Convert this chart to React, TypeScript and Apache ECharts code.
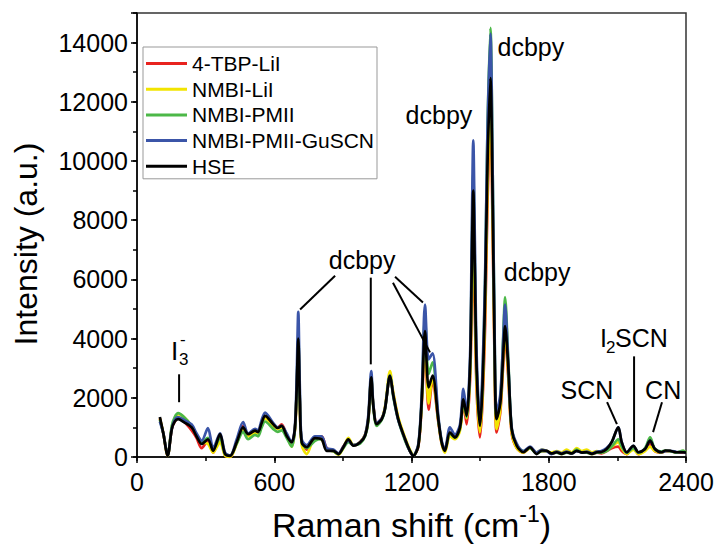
import React, { useEffect, useRef } from 'react';
import * as echarts from 'echarts';

// Raman shift (cm-1)
const shift = [100, 115, 134, 152, 165, 180, 205, 239, 260, 283, 310, 333, 363, 385, 407, 436, 464, 486, 516, 529, 545, 560, 595, 615, 632, 654, 676, 690, 698, 705, 712, 720, 742, 778, 807, 829, 858, 880, 902, 924, 946, 975, 997, 1011, 1024, 1033, 1048, 1070, 1084, 1106, 1121, 1142, 1172, 1193, 1208, 1230, 1245, 1259, 1275, 1292, 1317, 1332, 1346, 1368, 1390, 1412, 1427, 1441, 1456, 1463, 1470, 1477, 1485, 1499, 1510, 1522, 1532, 1545, 1555, 1563, 1572, 1588, 1600, 1609, 1623, 1638, 1660, 1689, 1718, 1747, 1770, 1791, 1812, 1835, 1856, 1878, 1900, 1922, 1945, 1966, 1988, 2010, 2030, 2053, 2075, 2104, 2119, 2141, 2170, 2192, 2221, 2243, 2264, 2293, 2310, 2330, 2359, 2388, 2400];

const tbpLiI = [1300, 800, 50, 950, 1200, 1300, 1200, 900, 650, 300, 550, 150, 700, 50, 0, 500, 1050, 750, 850, 850, 1150, 1350, 1050, 1000, 1100, 750, 450, 900, 2200, 3900, 1800, 500, 250, 650, 700, 300, 200, 100, 350, 550, 400, 500, 750, 1250, 2600, 1750, 1150, 1300, 1650, 2700, 2100, 1300, 600, 200, 50, 350, 1800, 3800, 1600, 2600, 1200, 450, 200, 750, 650, 950, 1800, 1100, 2600, 5000, 7000, 4800, 2200, 660, 1800, 4500, 8500, 11500, 7500, 3300, 830, 1500, 3000, 4100, 2700, 800, 300, 150, 300, 150, 200, 200, 120, 160, 100, 180, 120, 230, 150, 160, 100, 150, 120, 200, 300, 350, 200, 100, 300, 100, 250, 450, 200, 150, 200, 200, 150, 150, 150];

const nmbiLiI = [1300, 800, 40, 1000, 1300, 1450, 1350, 1050, 750, 500, 450, 150, 500, 50, 0, 450, 950, 700, 800, 800, 1100, 1300, 1050, 950, 1000, 750, 350, 900, 2200, 3800, 1700, 400, 100, 650, 600, 250, 200, 80, 300, 650, 400, 500, 750, 1300, 2650, 1750, 1100, 1300, 1700, 2900, 2150, 1350, 650, 250, 50, 400, 1900, 4200, 1800, 2700, 1250, 450, 150, 700, 600, 900, 1850, 1300, 2800, 5500, 7800, 5300, 2400, 830, 2000, 5000, 9000, 12000, 8000, 3500, 940, 1600, 3200, 4300, 2800, 850, 300, 150, 300, 150, 250, 200, 150, 200, 150, 250, 150, 300, 200, 250, 150, 200, 150, 250, 350, 500, 300, 100, 250, 100, 200, 350, 200, 150, 200, 200, 150, 200, 150];

const nmbiPmii = [1250, 800, 60, 1050, 1350, 1480, 1350, 1050, 750, 500, 650, 250, 650, 100, 50, 450, 850, 600, 750, 700, 1000, 1200, 950, 850, 900, 650, 350, 900, 2300, 4100, 1900, 500, 300, 550, 600, 250, 200, 100, 300, 500, 400, 450, 700, 1200, 2750, 1700, 1050, 1250, 1600, 2750, 2000, 1250, 550, 200, 50, 400, 2000, 4700, 2800, 3200, 1300, 500, 250, 800, 650, 1000, 1900, 1350, 3000, 6500, 9600, 6500, 3000, 1100, 2500, 6000, 11000, 14500, 9500, 4200, 1300, 1900, 3900, 5400, 3300, 950, 400, 200, 300, 120, 200, 200, 120, 150, 100, 150, 120, 250, 150, 150, 100, 150, 150, 200, 350, 600, 350, 150, 300, 150, 300, 660, 280, 180, 220, 200, 150, 220, 150];

const nmbiPmiiGuscn = [1200, 800, 60, 950, 1250, 1350, 1250, 1100, 800, 550, 980, 300, 800, 150, 50, 600, 1180, 800, 950, 900, 1250, 1500, 1150, 1000, 1050, 800, 500, 1000, 2700, 4900, 2300, 600, 400, 700, 700, 300, 250, 120, 350, 550, 400, 500, 750, 1400, 2900, 1800, 1150, 1300, 1650, 2750, 2050, 1250, 600, 200, 50, 450, 2200, 5150, 3300, 3500, 1400, 550, 250, 1000, 750, 1100, 2300, 1500, 3400, 7200, 10700, 7300, 3400, 1280, 2800, 6200, 11000, 14300, 9500, 4400, 1500, 2100, 3800, 5150, 3200, 1000, 450, 200, 350, 150, 250, 200, 100, 180, 120, 180, 120, 200, 150, 180, 120, 180, 200, 300, 500, 1000, 500, 160, 380, 160, 270, 550, 270, 160, 200, 210, 170, 160, 150];

const hse = [1350, 800, 40, 940, 1200, 1280, 1180, 1000, 700, 440, 600, 210, 770, 100, 40, 500, 1000, 770, 890, 840, 1150, 1390, 1110, 980, 1050, 720, 500, 940, 2300, 4000, 1900, 500, 330, 640, 600, 210, 210, 100, 330, 600, 380, 490, 720, 1280, 2690, 1730, 1110, 1280, 1620, 2740, 2060, 1280, 600, 210, 40, 380, 1950, 4250, 2350, 2750, 1280, 490, 210, 830, 660, 1000, 1950, 1390, 3070, 6200, 9000, 6200, 2900, 1050, 2300, 5500, 9800, 12800, 8500, 3800, 1280, 1800, 3300, 4420, 3070, 940, 380, 160, 330, 100, 220, 210, 120, 160, 110, 160, 120, 210, 150, 160, 110, 160, 170, 270, 500, 1000, 500, 160, 380, 160, 270, 550, 270, 160, 220, 210, 160, 160, 150];

const seriesNames = ['4-TBP-LiI', 'NMBI-LiI', 'NMBI-PMII', 'NMBI-PMII-GuSCN', 'HSE'];
const seriesColors = ['#e8231f', '#f2e400', '#4cb848', '#3b55a8', '#000000'];
const seriesValues = [tbpLiI, nmbiLiI, nmbiPmii, nmbiPmiiGuscn, hse];

const xTicks = [0, 600, 1200, 1800, 2400];
const yTicks = [0, 2000, 4000, 6000, 8000, 10000, 12000, 14000];

// annotation texts in data coordinates
const annoTexts = [
  { text: 'dcbpy', x: 984, y: 6665 },
  { text: 'dcbpy', x: 1320, y: 11545 },
  { text: 'dcbpy', x: 1722, y: 13868 },
  { text: 'dcbpy', x: 1749, y: 6261 },
  { text: 'SCN', x: 1967, y: 2255 },
  { text: 'CN', x: 2300, y: 2255 },
];
const i2scnAt = [2173, 4005];
const i3At = [192, 3568];
const annoLines = [
  [[713, 4982], [866, 6126]],
  [[1022, 6059], [1022, 3130]],
  [[1128, 6092], [1250, 5217]],
  [[1119, 5890], [1281, 3534]],
  [[2055, 1851], [2098, 1111]],
  [[2173, 3400], [2173, 505]],
  [[2295, 1851], [2256, 841]],
  [[184, 2794], [184, 1851]],
];

const FONT = '"Liberation Sans", Arial, Helvetica, sans-serif';

export default function App() {
  const ref = useRef<HTMLDivElement>(null);
  useEffect(() => {
    document.body.style.margin = '0';
    const chart = echarts.init(ref.current!, null, { renderer: 'svg' });
    const option: any = {
      animation: false,
      backgroundColor: '#ffffff',
      textStyle: { fontFamily: FONT },
      grid: { left: 137, right: 31, top: 13, bottom: 89, show: true, borderColor: '#333', borderWidth: 1.5, backgroundColor: 'transparent' },
      legend: {
        orient: 'vertical',
        left: 143,
        top: 47,
        icon: 'rect',
        itemWidth: 41,
        itemHeight: 3,
        itemGap: 4.7,
        padding: [6, 3, 2, 3],
        borderColor: '#999',
        borderWidth: 1,
        backgroundColor: '#fff',
        data: seriesNames,
        textStyle: { fontSize: 21, lineHeight: 21, color: '#000', fontFamily: FONT },
      },
      xAxis: [
        {
          type: 'value', min: 0, max: 2400, interval: 600, position: 'bottom',
          axisLine: { show: true, onZero: false, lineStyle: { color: '#000', width: 1.5 } },
          axisTick: { show: true, length: 6, lineStyle: { color: '#000', width: 1.5 } },
          axisLabel: { fontSize: 25, color: '#000', margin: 12, fontFamily: FONT, formatter: (v: number) => (xTicks.includes(v) ? String(v) : '') },
          splitLine: { show: false },
          name: '{a|Raman shift (cm}{b|-1}{a|)}',
          nameLocation: 'middle',
          nameGap: 45,
          nameTextStyle: {
            fontFamily: FONT,
            rich: {
              a: { fontSize: 34, lineHeight: 40, color: '#000', fontFamily: FONT, verticalAlign: 'bottom' },
              b: { fontSize: 23, lineHeight: 23, color: '#000', fontFamily: FONT, verticalAlign: 'top' },
            },
          },
        },
        {
          type: 'value', min: 0, max: 2400, interval: 300, position: 'bottom',
          axisLine: { show: false },
          axisTick: { show: true, length: 4, lineStyle: { color: '#000', width: 1.5 } },
          axisLabel: { show: false },
          splitLine: { show: false },
        },
      ],
      yAxis: [
        {
          type: 'value', min: 0, max: 15000, interval: 2000, position: 'left',
          axisLine: { show: true, onZero: false, lineStyle: { color: '#000', width: 1.5 } },
          axisTick: { show: true, length: 6, lineStyle: { color: '#000', width: 1.5 } },
          axisLabel: { fontSize: 25, color: '#000', margin: 9, fontFamily: FONT, formatter: (v: number) => (yTicks.includes(v) ? String(v) : '') },
          splitLine: { show: false },
          name: 'Intensity (a.u.)',
          nameLocation: 'middle',
          nameGap: 95,
          nameRotate: 90,
          nameTextStyle: { fontSize: 32, color: '#000', fontFamily: FONT, verticalAlign: 'bottom', padding: [0, 18, 0, 0] },
        },
        {
          type: 'value', min: 0, max: 15000, interval: 1000, position: 'left',
          axisLine: { show: false },
          axisTick: { show: true, length: 4, lineStyle: { color: '#000', width: 1.5 } },
          axisLabel: { show: false },
          splitLine: { show: false },
        },
      ],
      series: seriesNames.map((name, i) => ({
        name,
        type: 'line',
        xAxisIndex: 0,
        yAxisIndex: 0,
        data: shift.map((x, j) => [x, seriesValues[i][j]]),
        showSymbol: false,
        symbol: 'none',
        smooth: 0.3,
        color: seriesColors[i],
        lineStyle: { width: 2.7, color: seriesColors[i] },
        z: 2 + i,
      })),
    };
    chart.setOption(option);

    const px = (p: number[]) => chart.convertToPixel({ seriesIndex: 0 }, p) as number[];
    const textStyle = (text: string, size: number) => ({ text, fill: '#000', font: `${size}px ${FONT}` });
    const graphics: any[] = [];
    annoLines.forEach(([a, b]) => {
      const p1 = px(a);
      const p2 = px(b);
      graphics.push({ type: 'line', shape: { x1: p1[0], y1: p1[1], x2: p2[0], y2: p2[1] }, style: { stroke: '#000', lineWidth: 2 }, z: 100 });
    });
    annoTexts.forEach((t) => {
      const p = px([t.x, t.y]);
      graphics.push({ type: 'text', x: p[0], y: p[1], z: 100, style: { ...textStyle(t.text, 25), align: 'center', verticalAlign: 'middle' } });
    });
    const pI2 = px(i2scnAt);
    graphics.push({
      type: 'group', x: pI2[0], y: pI2[1], z: 100,
      children: [
        { type: 'text', x: -34, y: 0, style: { ...textStyle('I', 25), align: 'left', verticalAlign: 'middle' } },
        { type: 'text', x: -28, y: 9, style: { ...textStyle('2', 17), align: 'left', verticalAlign: 'middle' } },
        { type: 'text', x: -19, y: 0, style: { ...textStyle('SCN', 25), align: 'left', verticalAlign: 'middle' } },
      ],
    });
    const pI3 = px(i3At);
    graphics.push({
      type: 'group', x: pI3[0], y: pI3[1], z: 100,
      children: [
        { type: 'text', x: -10, y: 0, style: { ...textStyle('I', 26), align: 'left', verticalAlign: 'middle' } },
        { type: 'text', x: -2, y: 8, style: { ...textStyle('3', 17), align: 'left', verticalAlign: 'middle' } },
        { type: 'text', x: -1, y: -12, style: { ...textStyle('-', 17), align: 'left', verticalAlign: 'middle' } },
      ],
    });
    chart.setOption({ graphic: graphics });

    return () => chart.dispose();
  }, []);
  return <div ref={ref} style={{ width: 717, height: 547 }} />;
}
